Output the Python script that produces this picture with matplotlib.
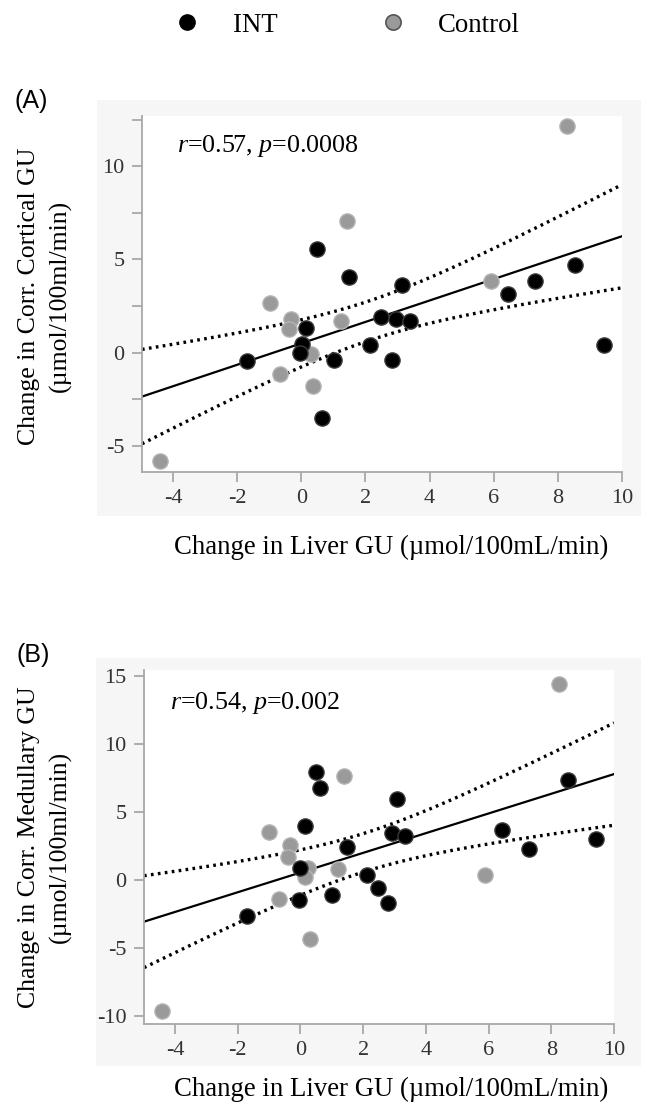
# liver GU vs corr. cortical / medullary GU, two panels
import numpy as np
import matplotlib.pyplot as plt
from matplotlib.lines import Line2D
from matplotlib.patches import Rectangle

plt.rcParams['font.family'] = ['Liberation Serif', 'DejaVu Serif']
plt.rcParams['mathtext.fontset'] = 'custom'
plt.rcParams['mathtext.rm'] = 'Liberation Serif'
plt.rcParams['mathtext.it'] = 'Liberation Serif:italic'
plt.rcParams['axes.unicode_minus'] = False

# panel A data
a_int_x = [0.49, 1.50, 3.13, 0.15, 0.03, -0.04, -1.69, 1.02, 2.14, 2.48, 2.94, 3.38, 2.82, 0.63, 6.43, 7.29, 8.53, 9.45]
a_int_y = [5.55, 4.05, 3.64, 1.32, 0.45, 0.00, -0.45, -0.41, 0.40, 1.89, 1.78, 1.71, -0.40, -3.48, 3.15, 3.84, 4.68, 0.41]
a_ctl_x = [8.28, 1.43, -0.99, -0.31, -0.38, 1.23, 0.31, -0.66, 0.35, -4.41, 5.92]
a_ctl_y = [12.16, 7.08, 2.65, 1.80, 1.26, 1.68, -0.09, -1.14, -1.80, -5.80, 3.84]

# panel B data
b_int_x = [0.48, 0.61, 3.09, 0.13, 2.92, 3.35, 1.48, 0.00, -0.06, 1.00, 2.12, 2.46, 2.79, -1.71, 6.42, 7.28, 8.52, 9.41]
b_int_y = [7.96, 6.78, 5.92, 3.97, 3.43, 3.23, 2.40, 0.91, -1.47, -1.13, 0.37, -0.56, -1.71, -2.64, 3.67, 2.25, 7.34, 2.99]
b_ctl_x = [8.26, 1.40, -1.00, -0.33, -0.39, 0.25, 0.13, 1.19, -0.67, 0.31, -4.43, 5.88]
b_ctl_y = [14.39, 7.66, 3.50, 2.57, 1.71, 0.86, 0.24, 0.81, -1.42, -4.33, -9.60, 0.37]

x_ticks = [-4, -2, 0, 2, 4, 6, 8, 10]
a_yticks = [-5, 0, 5, 10]
a_yminor = [-2.5, 2.5, 7.5, 12.5]
b_yticks = [-10, -5, 0, 5, 10, 15]

W, H = 649, 1111
fig = plt.figure(figsize=(W / 100, H / 100), dpi=100)


def px(x0, y0, x1, y1):
    # pixel box -> figure fraction [left, bottom, width, height]
    return [x0 / W, 1 - y1 / H, (x1 - x0) / W, (y1 - y0) / H]


def fit_band(x, y, xs):
    x = np.asarray(x)
    y = np.asarray(y)
    n = len(x)
    b, a = np.polyfit(x, y, 1)
    s = np.sqrt(np.sum((y - (a + b * x)) ** 2) / (n - 2))
    se = s * np.sqrt(1 / n + (xs - x.mean()) ** 2 / np.sum((x - x.mean()) ** 2))
    fit = a + b * xs
    return fit, fit - 2.05 * se, fit + 2.05 * se


# light gray panel backgrounds
for box in [(97, 100, 641, 516), (96, 658, 641, 1066)]:
    fig.patches.append(Rectangle((box[0] / W, 1 - box[3] / H), (box[2] - box[0]) / W,
                                 (box[3] - box[1]) / H, transform=fig.transFigure,
                                 facecolor='#f6f6f6', edgecolor='none', zorder=-5))


def panel(rect, xi, yi, xc, yc, xlim, ylim, yticks, yminor, stat, tpos):
    ax = fig.add_axes(rect)
    ax.set_xlim(xlim)
    ax.set_ylim(ylim)
    xs = np.linspace(xlim[0], xlim[1], 200)
    fit, lo, hi = fit_band(xi + xc, yi + yc, xs)
    ax.plot(xs, fit, color='black', lw=1.6, zorder=2)
    ax.plot(xs, lo, color='black', lw=2.4, ls=(0, (0.8, 1.3)), zorder=2)
    ax.plot(xs, hi, color='black', lw=2.4, ls=(0, (0.8, 1.3)), zorder=2)
    ax.scatter(xc, yc, s=120, c='#9a9a9a', edgecolors='#b4b4b4', linewidths=1, zorder=3)
    ax.scatter(xi, yi, s=120, c='black', edgecolors='#3a3a3a', linewidths=1, zorder=4)
    ax.set_xticks(x_ticks)
    ax.set_yticks(yticks)
    ax.set_yticks(yminor, minor=True)
    for s in ['top', 'right']:
        ax.spines[s].set_visible(False)
    for s in ['left', 'bottom']:
        ax.spines[s].set_color('#a8a8a8')
        ax.spines[s].set_linewidth(1.3)
    ax.tick_params(which='both', length=7.5, width=1.3, color='#a8a8a8', pad=5,
                   labelsize=16, labelcolor='#333333')
    ax.text(tpos[0], tpos[1], stat, transform=ax.transAxes, fontsize=18.7, va='center')
    return ax


panel(px(142, 116, 622, 472), a_int_x, a_int_y, a_ctl_x, a_ctl_y,
      (-4.97, 10), (-6.4, 12.69), a_yticks, a_yminor,
      r'$r$=0.57, $p$=0.0008', (0.072, 0.915))
panel(px(144, 670, 614, 1024), b_int_x, b_int_y, b_ctl_x, b_ctl_y,
      (-4.99, 10), (-10.59, 15.44), b_yticks, [],
      r'$r$=0.54, $p$=0.002', (0.055, 0.907))

# axis labels
fig.text(45 / W, 1 - 296 / H, 'Change in Corr. Cortical GU\n(µmol/100ml/min)', rotation=90,
         ha='center', va='center', fontsize=18.5, linespacing=1.5)
fig.text(45 / W, 1 - 847 / H, 'Change in Corr. Medullary GU\n(µmol/100ml/min)', rotation=90,
         ha='center', va='center', fontsize=18.5, linespacing=1.5)
fig.text(391 / W, 1 - 547 / H, 'Change in Liver GU (µmol/100mL/min)',
         ha='center', va='center', fontsize=19.3)
fig.text(391 / W, 1 - 1089 / H, 'Change in Liver GU (µmol/100mL/min)',
         ha='center', va='center', fontsize=19.3)

# panel letters
fig.text(15 / W, 1 - 101 / H, '(A)', family='Liberation Sans', fontsize=18, va='center')
fig.text(16 / W, 1 - 655 / H, '(B)', family='Liberation Sans', fontsize=18, va='center')

# legend
handles = [Line2D([], [], ls='none', marker='o', ms=11, mfc='black', mec='black'),
           Line2D([], [], ls='none', marker='o', ms=11, mfc='#9a9a9a', mec='#555555', mew=1.2)]
fig.legend(handles, ['INT', 'Control'], loc='center', bbox_to_anchor=(347 / W, 1 - 25 / H),
           ncol=2, frameon=False, fontsize=19.3, handlelength=1.0, handletextpad=1.2,
           columnspacing=3.8)

fig.savefig('out.png', dpi=100)
